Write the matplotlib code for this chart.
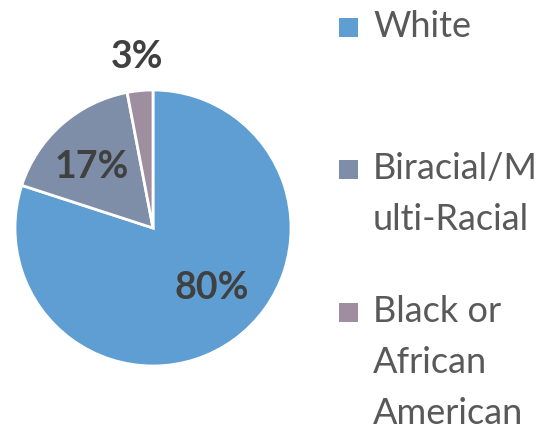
import matplotlib
matplotlib.use('Agg')
import matplotlib.pyplot as plt
import matplotlib.patches as patches

categories = ['White', 'Biracial/Multi-Racial', 'Black or African American']
legend_labels = ['White', 'Biracial/M\nulti-Racial', 'Black or\nAfrican\nAmerican']
values = [80, 17, 3]
colors = ['#5F9ED2', '#7E8DA8', '#9E8E9F']

W, H = 557, 434
fig = plt.figure(figsize=(W / 100, H / 100), dpi=100)
ax = fig.add_axes([0, 0, 1, 1])

# pie in pixel coordinates (y measured from bottom)
cx, cy, r = 153, H - 228, 138
ax.pie(values, colors=colors, startangle=90, counterclock=False,
       center=(cx, cy), radius=r, frame=True,
       wedgeprops=dict(edgecolor='white', linewidth=2))
ax.set_xlim(0, W)
ax.set_ylim(0, H)
ax.set_aspect('equal')
ax.axis('off')

# data labels
label_pos = [(212, 288), (92, 167), (137, 57)]
for v, (x, y) in zip(values, label_pos):
    ax.text(x, H - y, f'{v}%', ha='center', va='center', fontsize=27,
            fontweight='bold', color='#404040', family='Lato')

# legend: square + wrapped label, one text per line
first_baseline = [37, 179, 322]
line_step = 51
for lab, col, b in zip(legend_labels, colors, first_baseline):
    ax.add_patch(patches.Rectangle((339, H - b), 19, 19, facecolor=col, edgecolor='none'))
    for i, line in enumerate(lab.split('\n')):
        ax.text(373, H - (b + i * line_step), line, ha='left', va='baseline',
                fontsize=26, color='#595959', family='Lato')

fig.savefig('out.png', dpi=100, facecolor='white')
